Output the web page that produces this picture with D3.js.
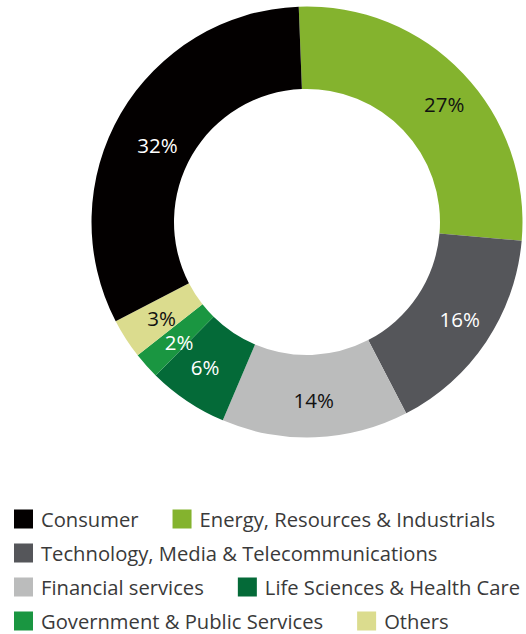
<!DOCTYPE html>
<html>
<head>
<meta charset="utf-8">
<script src="https://cdn.jsdelivr.net/npm/d3@7"></script>
<style>
  html, body { margin: 0; padding: 0; background: #ffffff; }
  svg { display: block; font-family: "Open Sans", "Noto Sans", sans-serif; }
</style>
</head>
<body>
<svg id="chart" width="526" height="634"></svg>
<script>
// Sector shares, listed clockwise from 12 o'clock
const categories = [
  "Energy, Resources & Industrials",
  "Technology, Media & Telecommunications",
  "Financial services",
  "Life Sciences & Health Care",
  "Government & Public Services",
  "Others",
  "Consumer"
];
const shares = [27, 16, 14, 6, 2, 3, 32];
const colors = ["#84b32e", "#55565a", "#bbbcbc", "#046a38", "#1a9641", "#dbdc8e", "#030000"];
const labelColors = ["#111111", "#ffffff", "#111111", "#ffffff", "#ffffff", "#111111", "#ffffff"];

// Legend order
const legendOrder = [
  "Consumer",
  "Energy, Resources & Industrials",
  "Technology, Media & Telecommunications",
  "Financial services",
  "Life Sciences & Health Care",
  "Government & Public Services",
  "Others"
];

// Hand-tuned label nudges (px) relative to the arc centroid
const labelNudge = {
  "Energy, Resources & Industrials": [11, 2],
  "Technology, Media & Telecommunications": [8, 0],
  "Financial services": [0, 4],
  "Life Sciences & Health Care": [-5, 0],
  "Government & Public Services": [2, 4],
  "Others": [1, 2],
  "Consumer": [1, 11]
};

const svg = d3.select("#chart");
const cx = 307, cy = 222, outerR = 215.5, innerR = 133;
const startAngle = -2.2 * Math.PI / 180;

const data = categories.map((c, i) => ({ name: c, value: shares[i], color: colors[i], label: labelColors[i] }));

const pie = d3.pie()
  .sort(null)
  .value(d => d.value)
  .startAngle(startAngle)
  .endAngle(startAngle + 2 * Math.PI);

const arc = d3.arc().innerRadius(innerR).outerRadius(outerR);

const g = svg.append("g").attr("transform", `translate(${cx},${cy})`);
const arcs = pie(data);

g.selectAll("path.slice")
  .data(arcs)
  .join("path")
  .attr("class", "slice")
  .attr("d", arc)
  .attr("fill", d => d.data.color);

g.selectAll("text.pct")
  .data(arcs)
  .join("text")
  .attr("class", "pct")
  .attr("transform", d => {
    const [x, y] = arc.centroid(d);
    const n = labelNudge[d.data.name] || [0, 0];
    return `translate(${x + n[0]},${y + n[1]})`;
  })
  .attr("text-anchor", "middle")
  .attr("dominant-baseline", "central")
  .attr("font-size", 20.5)
  .attr("font-weight", 400)
  .attr("fill", d => d.data.label)
  .text(d => d.data.value + "%");

// Legend: flowing rows of swatch + label
const colorOf = new Map(data.map(d => [d.name, d.color]));
const legend = svg.append("g");
const legendLeft = 14, legendMaxX = 524, rowStart = 519, rowStep = 34;
const swatch = 19, textGap = 8, itemGap = 34;
let x = legendLeft, row = 0;

legendOrder.forEach(name => {
  const item = legend.append("g");
  item.append("rect")
    .attr("width", swatch).attr("height", swatch)
    .attr("y", -swatch / 2)
    .attr("fill", colorOf.get(name));
  const t = item.append("text")
    .attr("x", swatch + textGap)
    .attr("dominant-baseline", "central")
    .attr("font-size", 20.2)
    .attr("font-weight", 400)
    .attr("fill", "#3a3a3a")
    .text(name);
  const w = swatch + textGap + t.node().getComputedTextLength();
  if (x > legendLeft && x + w > legendMaxX) { x = legendLeft; row += 1; }
  item.attr("transform", `translate(${x},${rowStart + row * rowStep})`);
  x += w + itemGap;
});
</script>
</body>
</html>
